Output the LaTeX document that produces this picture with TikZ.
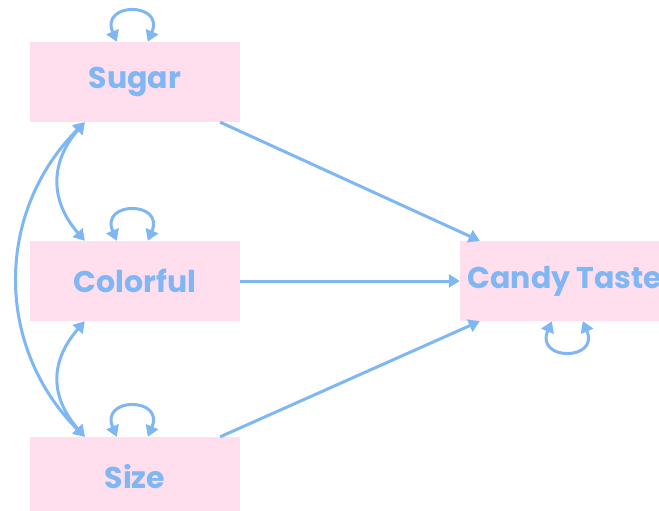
\documentclass[tikz,border=0pt]{standalone}
\usepackage{fontspec}
\setmainfont{Poppins}
\usetikzlibrary{arrows.meta,calc}
\definecolor{arrblue}{RGB}{127,183,245}
\definecolor{boxpink}{RGB}{255,222,238}
\begin{document}
\begin{tikzpicture}[x=1pt,y=-1pt,
  varbox/.style={fill=boxpink,draw=none,minimum width=210pt,minimum height=80pt,inner sep=0pt,
    text=arrblue,font=\fontsize{30}{34}\selectfont\bfseries},
  tip/.style={Triangle[length=11pt,width=13pt]},
  conn/.style={draw=arrblue,line width=3pt,-{Triangle[length=11pt,width=13pt]}},
  biconn/.style={draw=arrblue,line width=3pt,{Triangle[length=11pt,width=13pt]}-{Triangle[length=11pt,width=13pt]}}]
\useasboundingbox (0,0) rectangle (659,511);
\clip (0,0) rectangle (659,511);
\fill[white] (0,0) rectangle (659,511);
\node[varbox] (sugar) at (135,82) {Sugar};
\node[varbox] (colorful) at (135,281) {Colorful};
\node[varbox] (size) at (135,477) {Size};
\node[varbox] (candy) at (565,281) {Candy Taste};
% self loops
\draw[biconn] ([xshift=87pt]sugar.north west) .. controls +(-17,-40) and +(17,-40) .. ([xshift=118pt]sugar.north west);
\draw[biconn] ([xshift=87pt]colorful.north west) .. controls +(-17,-40) and +(17,-40) .. ([xshift=118pt]colorful.north west);
\draw[biconn] ([xshift=87pt]size.north west) .. controls +(-17,-40) and +(17,-40) .. ([xshift=118pt]size.north west);
\draw[biconn] ([xshift=92pt]candy.south west) .. controls +(-17,40) and +(17,40) .. ([xshift=123pt]candy.south west);
% regressions
\draw[conn] ([xshift=-20pt]sugar.south east) -- ([xshift=20pt]candy.north west);
\draw[conn] (colorful.east) -- (candy.west);
\draw[conn] ([xshift=-20pt]size.north east) -- ([xshift=20pt]candy.south west);
% covariances
\draw[biconn] ([xshift=55pt]sugar.south west) .. controls +(-35,40) and +(-35,-40) .. ([xshift=55pt]colorful.north west);
\draw[biconn] ([xshift=55pt]colorful.south west) .. controls +(-35,40) and +(-35,-40) .. ([xshift=55pt]size.north west);
\draw[biconn] ([xshift=55pt]sugar.south west) .. controls +(-90,90) and +(-90,-90) .. ([xshift=55pt]size.north west);
\end{tikzpicture}
\end{document}
